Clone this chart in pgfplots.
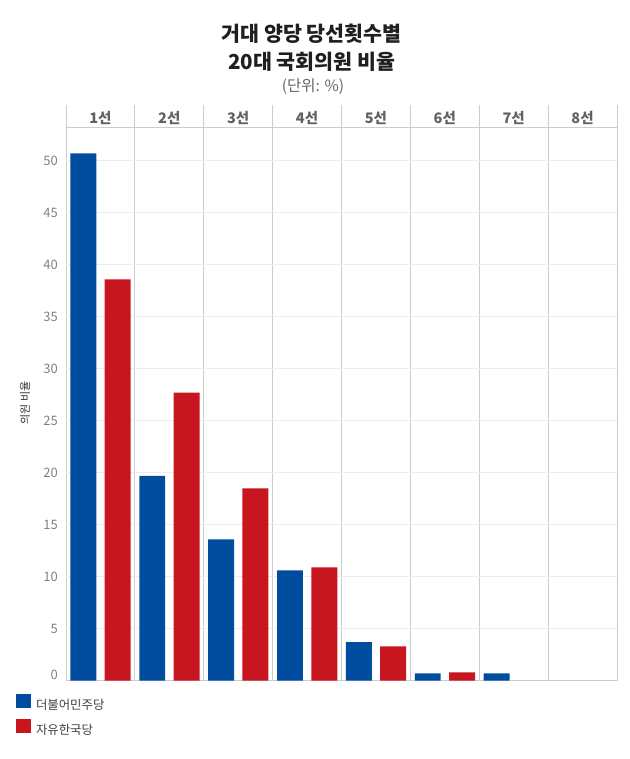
\documentclass[border=0pt]{standalone}
\usepackage{pgfplots}
\pgfplotsset{compat=1.18}
\usepackage{fontspec}
\setmainfont{Noto Sans CJK KR}
\definecolor{dblue}{RGB}{0,76,158}
\definecolor{dred}{RGB}{200,22,32}
\definecolor{gridc}{RGB}{236,236,236}
\definecolor{sepc}{RGB}{205,205,205}
\begin{document}
\begin{tikzpicture}
\path[use as bounding box] (0,0) rectangle (630bp,759bp);
\node[font=\bfseries\fontsize{20.6bp}{24bp}\selectfont, text=black!88] at (311.7bp,725.7bp) {거대 양당 당선횟수별};
\node[font=\bfseries\fontsize{20.6bp}{24bp}\selectfont, text=black!88] at (311.7bp,697.5bp) {20대 국회의원 비율};
\node[font=\fontsize{15.5bp}{17bp}\selectfont, text=black!60] at (313bp,672.5bp) {(단위: \%)};
\begin{axis}[
  at={(66bp,78.3bp)}, anchor=south west, scale only axis,
  width=551bp, height=575.7bp,
  xmin=-0.5, xmax=7.5, ymin=0, ymax=55.36,
  axis line style={draw=none},
  tick style={draw=none},
  xtick={0,...,7},
  xticklabels={1선,2선,3선,4선,5선,6선,7선,8선},
  xticklabel pos=upper,
  xticklabel style={anchor=center, yshift=-13.3bp, font=\bfseries\fontsize{14.5bp}{16bp}\selectfont, text=black!62},
  minor xtick={-0.5,0.5,...,7.5},
  xminorgrids, minor grid style={sepc, line width=0.9bp},
  ytick={5,10,...,50},
  ymajorgrids, major grid style={gridc, line width=0.8bp},
  yticklabel style={font=\fontsize{13bp}{15bp}\selectfont, text=black!50, inner sep=0pt, xshift=-8bp},
  /pgf/number format/assume math mode=true,
  extra y ticks={0,53.19}, extra y tick labels={0,},
  extra y tick style={major grid style={sepc, line width=0.9bp}, yticklabel style={yshift=6bp}},
  ylabel={의원 비율},
  ylabel style={at={(axis description cs:-0.0744,0.482)}, anchor=center, font=\fontsize{11bp}{13bp}\selectfont, text=black!80},
  legend style={at={(axis description cs:-0.0907,-0.0236)}, anchor=north west, draw=none, fill=none,
     inner sep=0pt, outer sep=0pt, row sep=8bp, nodes={inner sep=0pt},
     font=\fontsize{12.4bp}{14bp}\selectfont, text=black!75,
     /tikz/every odd column/.style={column sep=5bp}},
  legend cell align=left,
  legend image code/.code={\fill[#1] (0bp,-3bp) rectangle (15bp,11bp);},
]
% 더불어민주당 (8선: 0)
\addplot[ybar, bar width=0.377, bar shift=0pt, fill=dblue, draw=none]
  coordinates {(-0.248,50.7) (0.752,19.7) (1.752,13.6) (2.752,10.6) (3.752,3.7) (4.752,0.7) (5.752,0.7)};
\addlegendentry{더불어민주당}
% 자유한국당 (7선, 8선: 0)
\addplot[ybar, bar width=0.377, bar shift=0pt, fill=dred, draw=none]
  coordinates {(0.25,38.6) (1.25,27.7) (2.25,18.5) (3.25,10.9) (4.25,3.3) (5.25,0.8)};
\addlegendentry{자유한국당}
\end{axis}
\end{tikzpicture}
\end{document}
